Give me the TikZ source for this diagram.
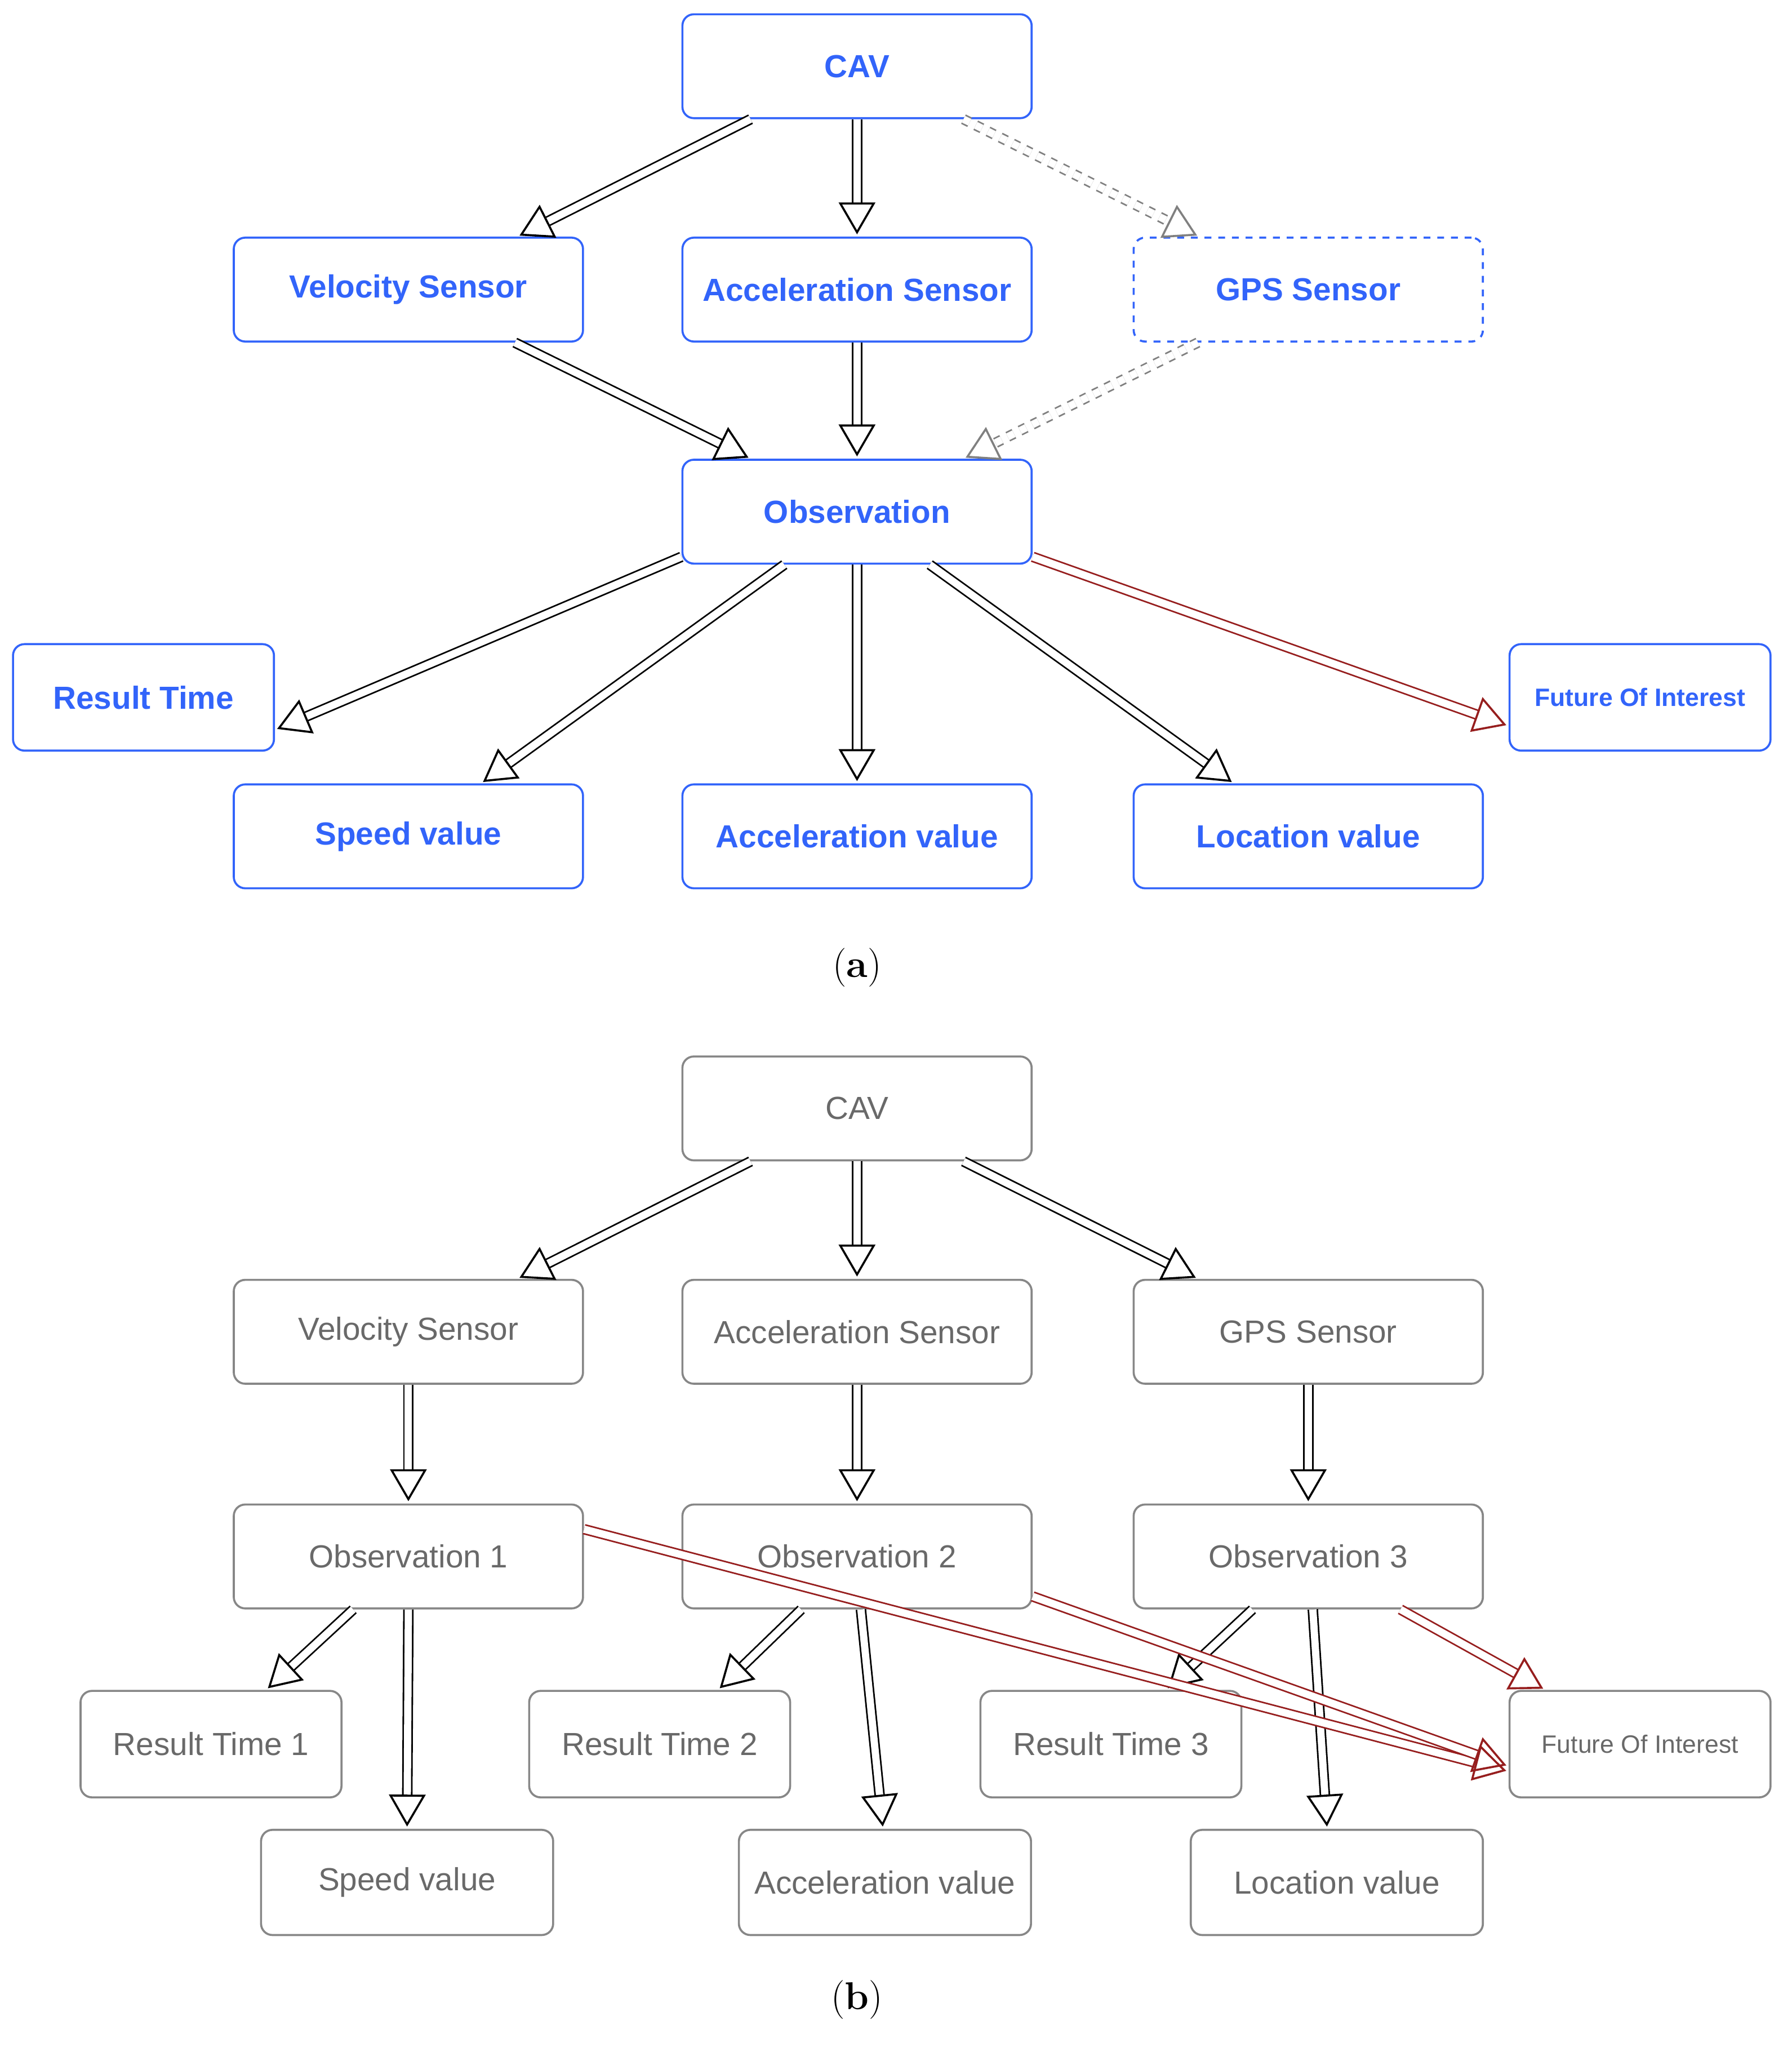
\documentclass[tikz,border=0pt]{standalone}
\usepackage{fontspec}
\setmainfont{Liberation Sans}
\newfontfamily\capfont{Latin Modern Roman}
\usetikzlibrary{arrows.meta,calc}
\definecolor{bl}{RGB}{50,100,250}
\definecolor{gr}{RGB}{105,105,105}
\definecolor{rd}{RGB}{150,30,30}
\begin{document}
\begin{tikzpicture}[x=0.02cm,y=-0.02cm,
 base/.style={draw,rounded corners=5pt,line width=0.9pt,font=\fontsize{14}{16}\selectfont},
 A/.style={base,draw=bl,text=bl,font=\fontsize{14}{16}\selectfont\bfseries},
 B/.style={base,draw=gr!80,text=gr},
 w/.style={minimum width=5.38cm,minimum height=1.6cm},
 s/.style={minimum width=4.02cm,minimum height=1.64cm},
 m/.style={minimum width=4.5cm,minimum height=1.62cm},
 ar/.style={double=white,draw=black,line width=0.7pt,double distance=3.2pt,-{Triangle[open,length=14pt,width=16pt,line width=0.9pt]},shorten >=1pt},
 dar/.style={ar,draw=gray,dashed},
 rar/.style={ar,draw=rd},
 captxt/.style={font=\capfont\fontsize{17}{19}\selectfont}]
\useasboundingbox (0,0) rectangle (1380,1577);
% panel a
\node[A,w] (cav) at (660,51) {CAV};
\node[A,w] (vel) at (314.5,223) {Velocity Sensor};
\node[A,w] (acc) at (660,223) {Acceleration Sensor};
\node[A,w,dashed] (gps) at (1007.5,223) {GPS Sensor};
\node[A,w] (obs) at (660,394) {Observation};
\node[A,s] (rt) at (110.5,537) {Result Time};
\node[A,s,font=\fontsize{11}{13}\selectfont\bfseries] (foi) at (1263,537) {Future Of Interest};
\node[A,w] (spd) at (314.5,644) {Speed value};
\node[A,w] (accv) at (660,644) {Acceleration value};
\node[A,w] (loc) at (1007.5,644) {Location value};
\node[captxt] (ca) at (660,745) {({\bfseries a})};
\draw[ar] ([xshift=-1.64cm]cav.south) -- ([xshift=1.68cm]vel.north);
\draw[ar] (cav.south) -- (acc.north);
\draw[dar] ([xshift=1.64cm]cav.south) -- ([xshift=-1.68cm]gps.north);
\draw[ar] ([xshift=1.64cm]vel.south) -- ([xshift=-1.64cm]obs.north);
\draw[ar] (acc.south) -- (obs.north);
\draw[dar] ([xshift=-1.7cm]gps.south) -- ([xshift=1.64cm]obs.north);
\draw[ar] ([yshift=0.12cm]obs.south west) -- ([yshift=-0.5cm]rt.east);
\draw[ar] ([xshift=-1.12cm]obs.south) -- ([xshift=1.12cm]spd.north);
\draw[ar] (obs.south) -- (accv.north);
\draw[ar] ([xshift=1.12cm]obs.south) -- ([xshift=-1.15cm]loc.north);
\draw[rar] ([yshift=0.12cm]obs.south east) -- ([yshift=-0.44cm]foi.west);
% panel b
\node[B,w] (cavb) at (660,853.5) {CAV};
\node[B,w] (velb) at (314.5,1025.5) {Velocity Sensor};
\node[B,w] (accb) at (660,1025.5) {Acceleration Sensor};
\node[B,w] (gpsb) at (1007.5,1025.5) {GPS Sensor};
\node[B,w] (o1) at (314.5,1198.5) {Observation 1};
\node[B,w] (o2) at (660,1198.5) {Observation 2};
\node[B,w] (o3) at (1007.5,1198.5) {Observation 3};
\node[B,s] (r1) at (162.5,1343) {Result Time 1};
\node[B,s] (r2) at (508,1343) {Result Time 2};
\node[B,s] (r3) at (855.5,1343) {Result Time 3};
\node[B,s,font=\fontsize{11}{13}\selectfont] (foib) at (1263,1343) {Future Of Interest};
\node[B,m] (sb) at (313.5,1449.5) {Speed value};
\node[B,m] (ab) at (681.5,1449.5) {Acceleration value};
\node[B,m] (lb) at (1029.5,1449.5) {Location value};
\node[captxt] (cb) at (660,1540) {({\bfseries b})};
\draw[ar] ([xshift=-1.64cm]cavb.south) -- ([xshift=1.68cm]velb.north);
\draw[ar] (cavb.south) -- (accb.north);
\draw[ar] ([xshift=1.64cm]cavb.south) -- ([xshift=-1.7cm]gpsb.north);
\draw[ar] (velb.south) -- (o1.north);
\draw[ar] (accb.south) -- (o2.north);
\draw[ar] (gpsb.south) -- (o3.north);
\draw[ar] ([xshift=-0.85cm]o1.south) -- ([xshift=0.85cm]r1.north);
\draw[ar] (o1.south) -- (sb.north);
\draw[ar] ([xshift=-0.86cm]o2.south) -- ([xshift=0.9cm]r2.north);
\draw[ar] ([xshift=0.06cm]o2.south) -- ([xshift=-0.03cm]ab.north);
\draw[ar] ([xshift=-0.86cm]o3.south) -- ([xshift=0.85cm]r3.north);
\draw[ar] ([xshift=0.07cm]o3.south) -- ([xshift=-0.15cm]lb.north);
\draw[rar] ([yshift=0.42cm]o1.east) -- ([yshift=-0.42cm]foib.west);
\draw[rar] ([yshift=0.2cm]o2.south east) -- ([yshift=-0.34cm]foib.west);
\draw[rar] ([xshift=1.42cm]o3.south) -- ([xshift=-1.46cm]foib.north);
\end{tikzpicture}
\end{document}
